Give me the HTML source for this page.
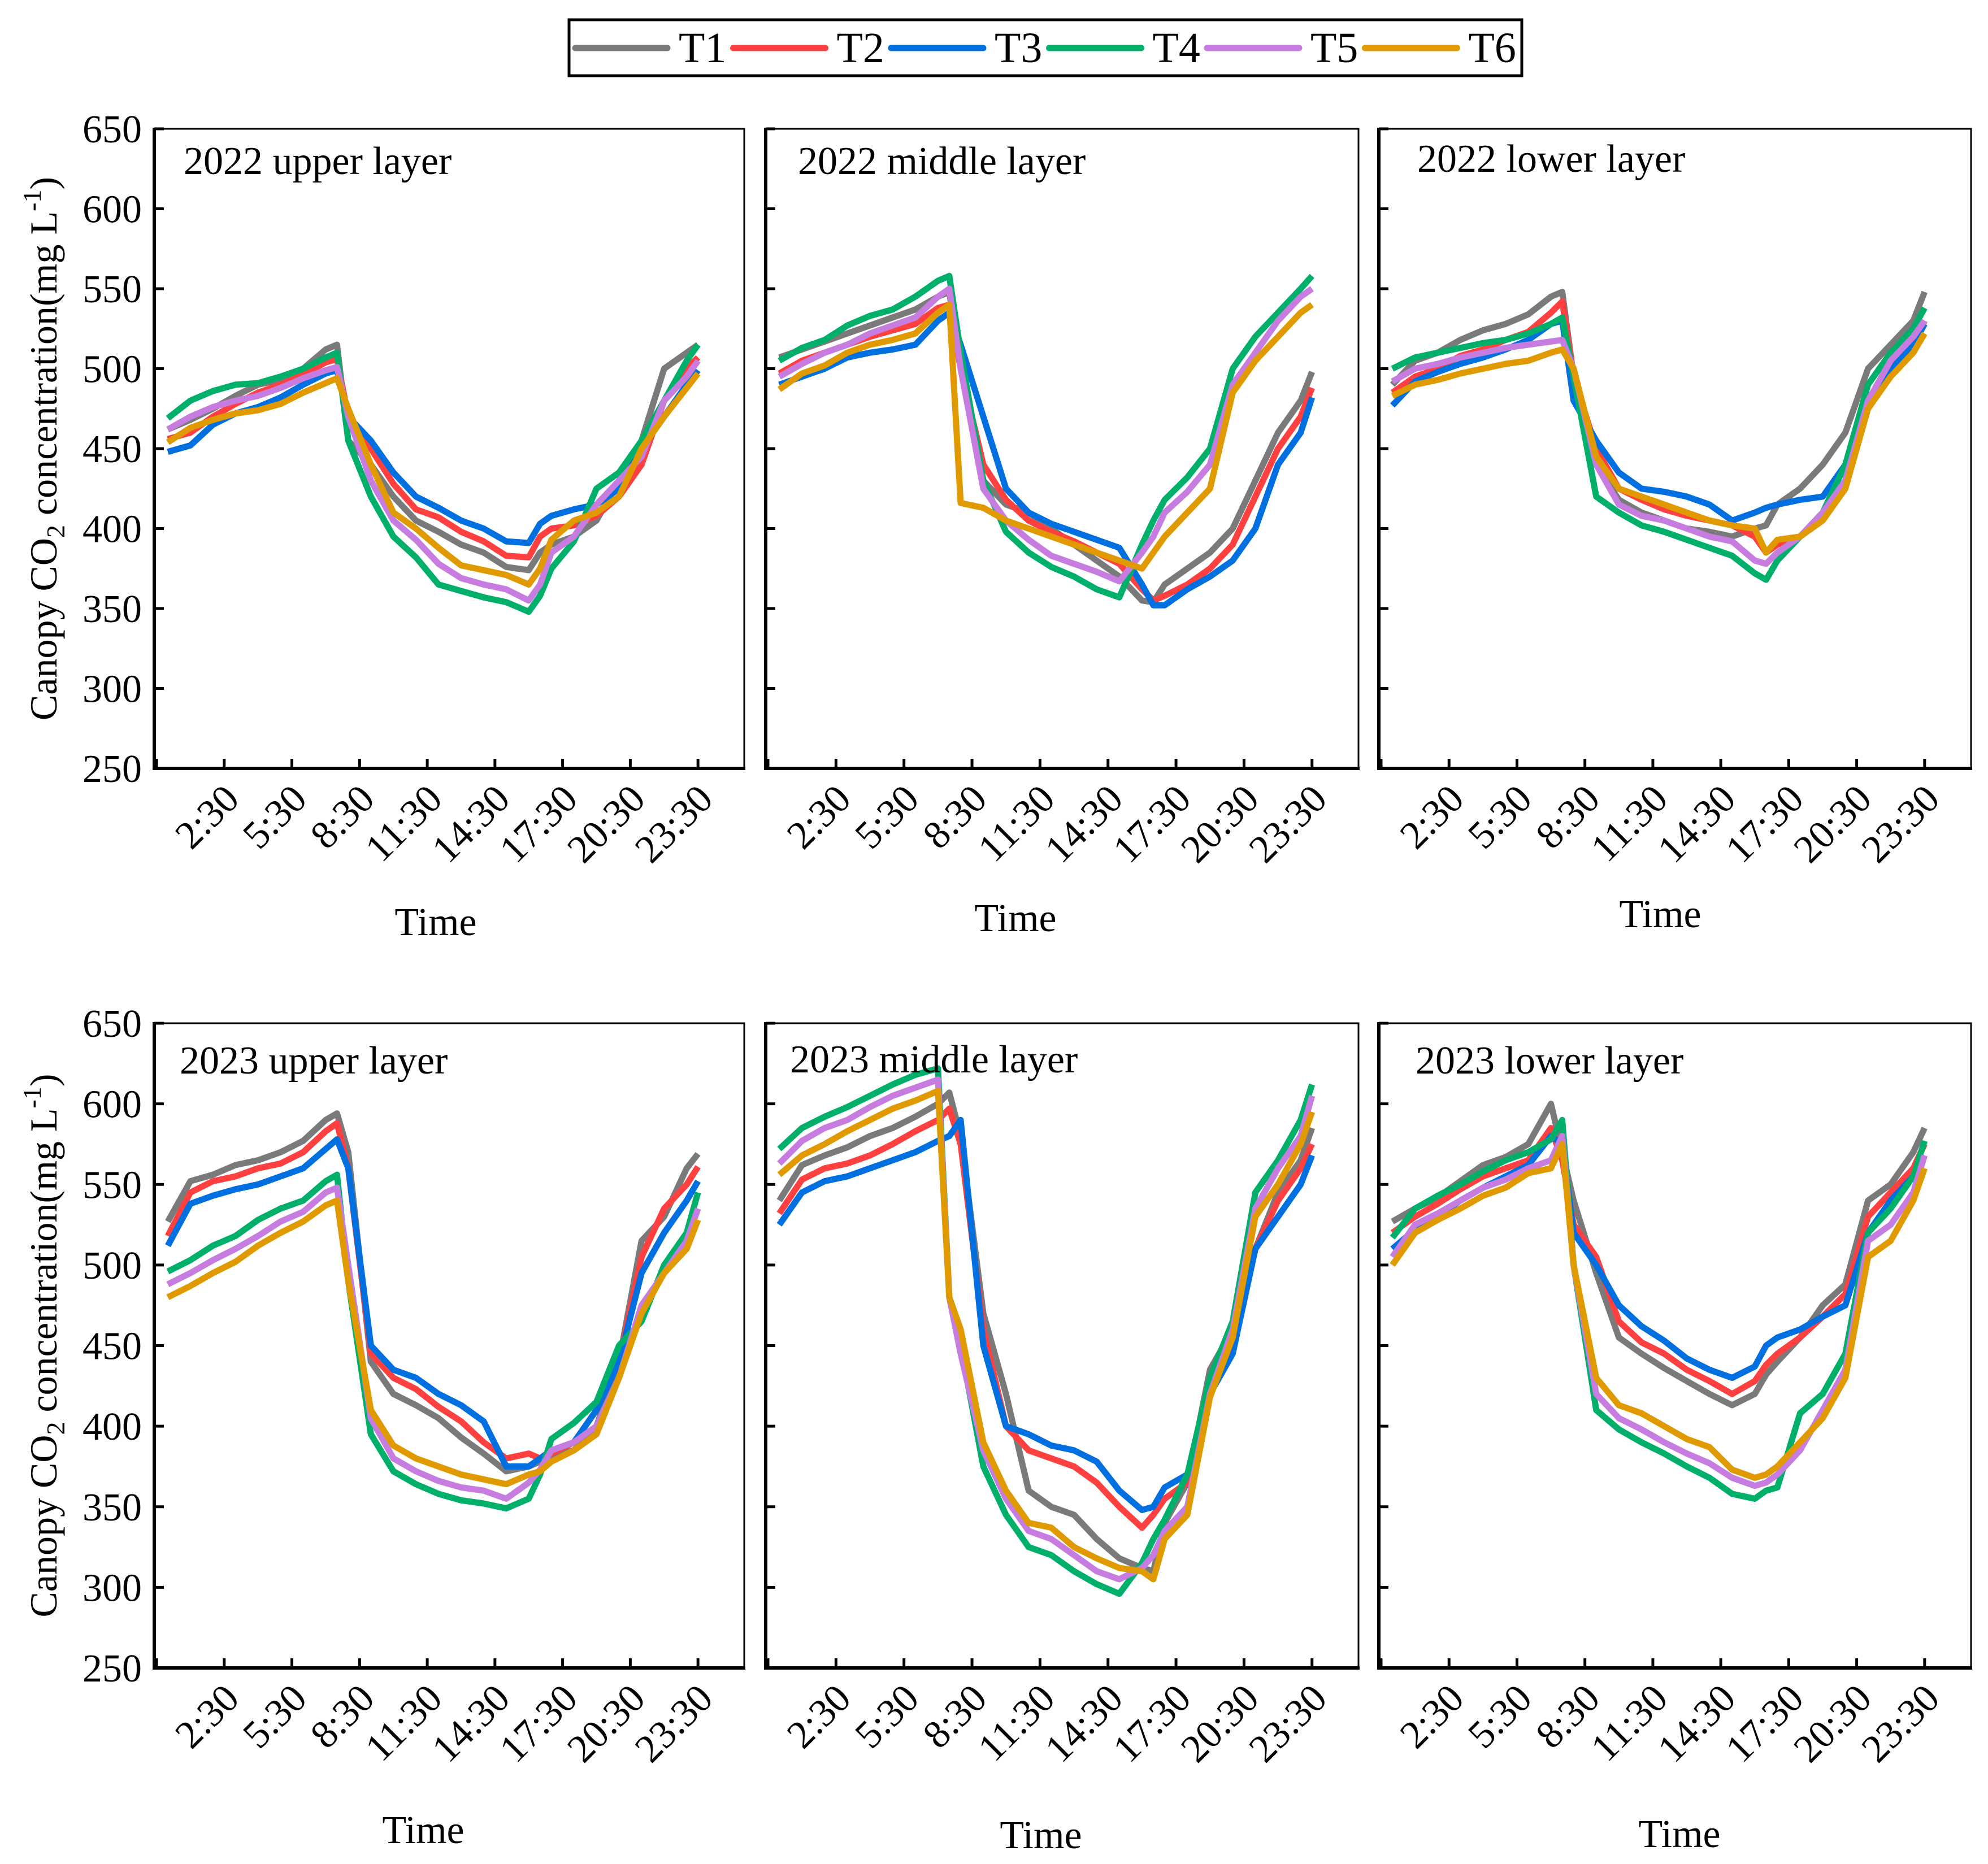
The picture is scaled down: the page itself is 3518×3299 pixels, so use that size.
<!DOCTYPE html>
<html><head><meta charset="utf-8"><style>
html,body{margin:0;padding:0;background:#fff}
svg{display:block;font-family:"Liberation Serif",serif}
</style></head><body>
<svg id="chart" xmlns="http://www.w3.org/2000/svg" width="3518" height="3299" viewBox="0 0 3518 3299">
<rect x="0" y="0" width="3518" height="3299" fill="#fff"/>
<g id="legend"></g>
<g id="panels"></g>
</svg>
<script>
const NS="http://www.w3.org/2000/svg";
const seriesNames=["T1","T2","T3","T4","T5","T6"];
const seriesColors=["#7a7a7a","#ff4040","#0070e0","#00b06a","#c77de0","#e09a00"];
const times=[0,1,2,3,4,5,6,7,7.5,8,9,10,11,12,13,14,15,16,16.5,17,18,19,20,21,22,23,23.5];
const xTickHours=[-0.5,2.5,5.5,8.5,11.5,14.5,17.5,20.5,23.5];
const xTickLabels=["","2:30","5:30","8:30","11:30","14:30","17:30","20:30","23:30"];
const yTicks=[250,300,350,400,450,500,550,600,650];
const panelTitles=["2022 upper layer","2022 middle layer","2022 lower layer","2023 upper layer","2023 middle layer","2023 lower layer"];

const p1T1=[462,468,475,483,490,493,500,512,515,455,440,420,405,398,390,385,376,374,385,390,395,405,430,455,500,510,515];
const p1T2=[456,460,470,478,485,490,496,504,506,470,450,428,412,407,398,392,383,382,395,400,402,408,420,440,480,500,507];
const p1T3=[448,452,465,472,476,482,490,497,499,470,455,435,420,413,405,400,392,391,403,408,412,415,425,450,470,490,499];
const p1T4=[469,480,486,490,491,495,500,507,510,455,420,395,382,365,361,357,354,348,358,375,392,425,435,455,480,505,515];
const p1T5=[462,470,476,480,483,488,494,499,501,470,430,405,393,378,369,365,362,355,365,385,395,415,430,445,480,495,505];
const p1T6=[454,463,468,472,474,478,485,491,494,475,440,410,400,388,377,374,371,365,375,393,405,410,420,450,470,488,497];

const p2T1=[507,512,517,522,527,532,537,545,548,500,430,415,410,400,390,380,370,355,354,365,375,385,400,430,460,480,498];
const p2T2=[497,505,510,515,520,524,528,538,540,500,440,418,405,398,392,385,378,362,355,358,365,375,390,420,450,470,488];
const p2T3=[490,495,500,507,510,512,515,530,535,515,470,425,410,403,398,393,388,365,352,352,362,370,380,400,440,460,482];
const p2T4=[505,513,518,527,533,537,545,555,558,510,430,398,385,376,370,362,357,390,405,418,432,450,500,520,535,550,558];
const p2T5=[495,503,510,515,522,527,532,545,550,500,425,405,393,383,378,373,367,385,395,410,423,440,490,510,530,545,550];
const p2T6=[487,497,502,510,515,518,522,535,540,416,413,405,400,395,390,385,380,375,385,395,410,425,485,505,520,535,540];

const p3T1=[490,505,510,518,524,528,534,545,548,495,440,418,410,405,400,398,395,400,402,415,425,440,460,500,515,530,548];
const p3T2=[485,495,500,508,512,518,523,535,542,495,450,425,418,412,408,405,402,395,385,390,395,410,430,480,500,515,530];
const p3T3=[477,492,498,503,507,512,518,528,530,480,455,435,425,423,420,415,405,410,413,415,418,420,440,480,500,515,528];
const p3T4=[500,507,510,513,516,518,522,528,532,495,420,410,402,398,393,388,383,372,368,380,395,410,440,490,510,525,538];
const p3T5=[492,500,503,507,510,513,515,517,518,500,440,415,408,405,400,395,392,380,378,385,395,410,430,480,505,520,530];
const p3T6=[483,490,493,497,500,503,505,510,512,500,445,425,420,415,410,405,402,400,385,393,395,405,425,475,495,510,522];

const p4T1=[527,552,556,562,565,570,577,590,594,570,440,420,413,405,393,383,372,375,378,382,385,400,440,515,530,560,569];
const p4T2=[518,545,552,555,560,563,570,583,588,560,445,430,423,412,403,390,380,383,380,383,390,410,440,505,535,550,561];
const p4T3=[512,538,543,547,550,555,560,572,578,560,450,435,430,420,413,403,375,375,380,385,390,410,440,495,520,540,552];
const p4T4=[496,503,512,518,528,535,540,552,556,490,395,372,364,358,354,352,349,355,370,392,402,415,450,465,500,520,545];
const p4T5=[488,495,503,510,518,527,533,545,548,500,405,380,372,366,362,360,355,365,373,385,390,400,430,475,495,515,535];
const p4T6=[480,487,495,502,512,520,527,537,540,490,410,388,380,375,370,367,364,370,372,378,385,395,430,470,495,510,528];

const p5T1=[540,562,568,573,580,585,592,600,607,580,470,420,360,350,345,330,318,312,310,340,365,435,460,510,545,565,585];
const p5T2=[532,553,560,563,568,575,583,590,597,575,460,400,385,380,375,365,350,337,345,355,365,425,450,510,540,560,575];
const p5T3=[525,545,552,555,560,565,570,577,580,590,450,400,395,388,385,378,360,348,350,362,370,420,445,510,530,550,568];
const p5T4=[572,585,592,598,605,612,618,622,480,450,375,345,325,320,310,302,296,315,330,342,370,430,465,545,565,590,612];
const p5T5=[563,577,585,590,598,605,610,615,480,445,385,355,335,330,320,310,305,312,320,335,350,420,460,535,560,580,605];
const p5T6=[556,568,575,583,590,597,602,608,480,460,390,360,340,337,325,318,312,310,305,330,345,418,455,530,550,575,595];

const p6T1=[527,535,542,552,562,567,575,600,570,540,495,455,445,436,428,420,413,420,432,440,455,475,488,540,550,570,585];
const p6T2=[520,530,538,547,555,560,565,585,565,525,505,465,452,445,435,428,420,428,438,445,455,468,482,530,545,560,575];
const p6T3=[510,522,530,540,548,555,562,580,575,520,500,475,462,453,442,435,430,437,450,455,460,468,475,520,540,555,568];
const p6T4=[517,535,543,550,558,565,570,578,590,500,410,398,390,383,375,368,358,355,360,362,408,420,445,520,535,555,577];
const p6T5=[505,525,532,540,548,553,560,565,580,500,420,405,398,390,383,377,368,363,365,370,385,410,435,515,525,545,568];
const p6T6=[500,520,528,535,543,548,557,560,575,500,430,413,408,400,392,387,373,368,370,375,390,405,430,505,515,540,560];

const panelData=[[p1T1,p1T2,p1T3,p1T4,p1T5,p1T6],[p2T1,p2T2,p2T3,p2T4,p2T5,p2T6],[p3T1,p3T2,p3T3,p3T4,p3T5,p3T6],
[p4T1,p4T2,p4T3,p4T4,p4T5,p4T6],[p5T1,p5T2,p5T3,p5T4,p5T5,p5T6],[p6T1,p6T2,p6T3,p6T4,p6T5,p6T6]];

const colX=[[273,1317],[1355,2404],[2440,3488]];
const rowY=[[228,1360],[1811,2952]];
const timeLabelPos=[[771,1655],[1797,1648],[2938,1641],[749,3262],[1842,3271],[2972,3269]];
const titlePos=[[325,308],[1412,308],[2508,304],[318,1900],[1398,1898],[2505,1900]];
const xMin=-0.6,xMax=25.55,yMin=250,yMax=650;

function el(tag,attrs,parent){const e=document.createElementNS(NS,tag);for(const k in attrs)e.setAttribute(k,attrs[k]);parent.appendChild(e);return e;}

const svg=document.getElementById('chart');
const panels=document.getElementById('panels');
const legend=document.getElementById('legend');

const lb=el('rect',{x:1007,y:35,width:1686,height:99,fill:'#fff',stroke:'#000','stroke-width':5},legend);


seriesNames.forEach((n,i)=>{
  const g=el('g',{},legend);
  
  
  const x0=1013+i*279.5;
  el('line',{x1:x0+5,y1:85,x2:x0+168,y2:85,stroke:seriesColors[i],'stroke-width':11,'stroke-linecap':'round'},g);
  const t=el('text',{x:x0+188,y:110,'font-size':76,fill:'#000'},g);
  t.textContent=n;
});

for(let p=0;p<6;p++){
  const r=Math.floor(p/3),c=p%3;
  const [L,R]=colX[c],[T,B]=rowY[r];
  const sx=h=>L+(h-xMin)/(xMax-xMin)*(R-L);
  const sy=v=>B-(v-yMin)/(yMax-yMin)*(B-T);
  const g=el('g',{},panels);
  
  
  const frame=el('rect',{x:L,y:T,width:R-L,height:B-T,fill:'none',stroke:'#000','stroke-width':3},g);
  
  
  el('line',{x1:L,y1:T-2,x2:L,y2:B+3,stroke:'#000','stroke-width':6},g);
  el('line',{x1:L-3,y1:B,x2:R+2,y2:B,stroke:'#000','stroke-width':6},g);
  yTicks.forEach(v=>{
    el('line',{x1:L,y1:sy(v),x2:L+17,y2:sy(v),stroke:'#000','stroke-width':5},g);
    if(c===0){
      const t=el('text',{x:L-22,y:sy(v)+24,'font-size':70,'text-anchor':'end',fill:'#000'},g);
      
      
      t.textContent=v;
    }
  });
  xTickHours.forEach((h,i)=>{
    el('line',{x1:sx(h),y1:B,x2:sx(h),y2:B-17,stroke:'#000','stroke-width':5},g);
    if(xTickLabels[i]){
      const t=el('text',{'font-size':70,'text-anchor':'end',fill:'#000',transform:`translate(${sx(h)+30},${B+58}) rotate(-45)`},g);
      
      
      t.textContent=xTickLabels[i];
    }
  });
  panelData[p].forEach((vals,si)=>{
    const d=vals.map((v,k)=>(k?'L':'M')+sx(times[k]).toFixed(1)+','+sy(v).toFixed(1)).join(' ');
    const path=el('path',{d:d,fill:'none',stroke:seriesColors[si],'stroke-width':11,'stroke-linejoin':'round'},g);
    
    
  });
  const tt=el('text',{x:titlePos[p][0],y:titlePos[p][1],'font-size':70,fill:'#000'},g);
  
  
  tt.textContent=panelTitles[p];
  const xl=el('text',{x:timeLabelPos[p][0],y:timeLabelPos[p][1],'font-size':70,'text-anchor':'middle',fill:'#000'},g);
  
  
  xl.textContent='Time';
  if(c===0){
    const cy=(T+B)/2;
    const yl=el('text',{'font-size':68,'text-anchor':'middle',fill:'#000',transform:`translate(100,${cy}) rotate(-90)`},g);
    
    
    yl.innerHTML='Canopy CO<tspan font-size="46" dy="14">2</tspan><tspan dy="-14"> concentration(mg L</tspan><tspan font-size="46" dy="-28">-1</tspan><tspan dy="28">)</tspan>';
  }
}
</script>
</body></html>
